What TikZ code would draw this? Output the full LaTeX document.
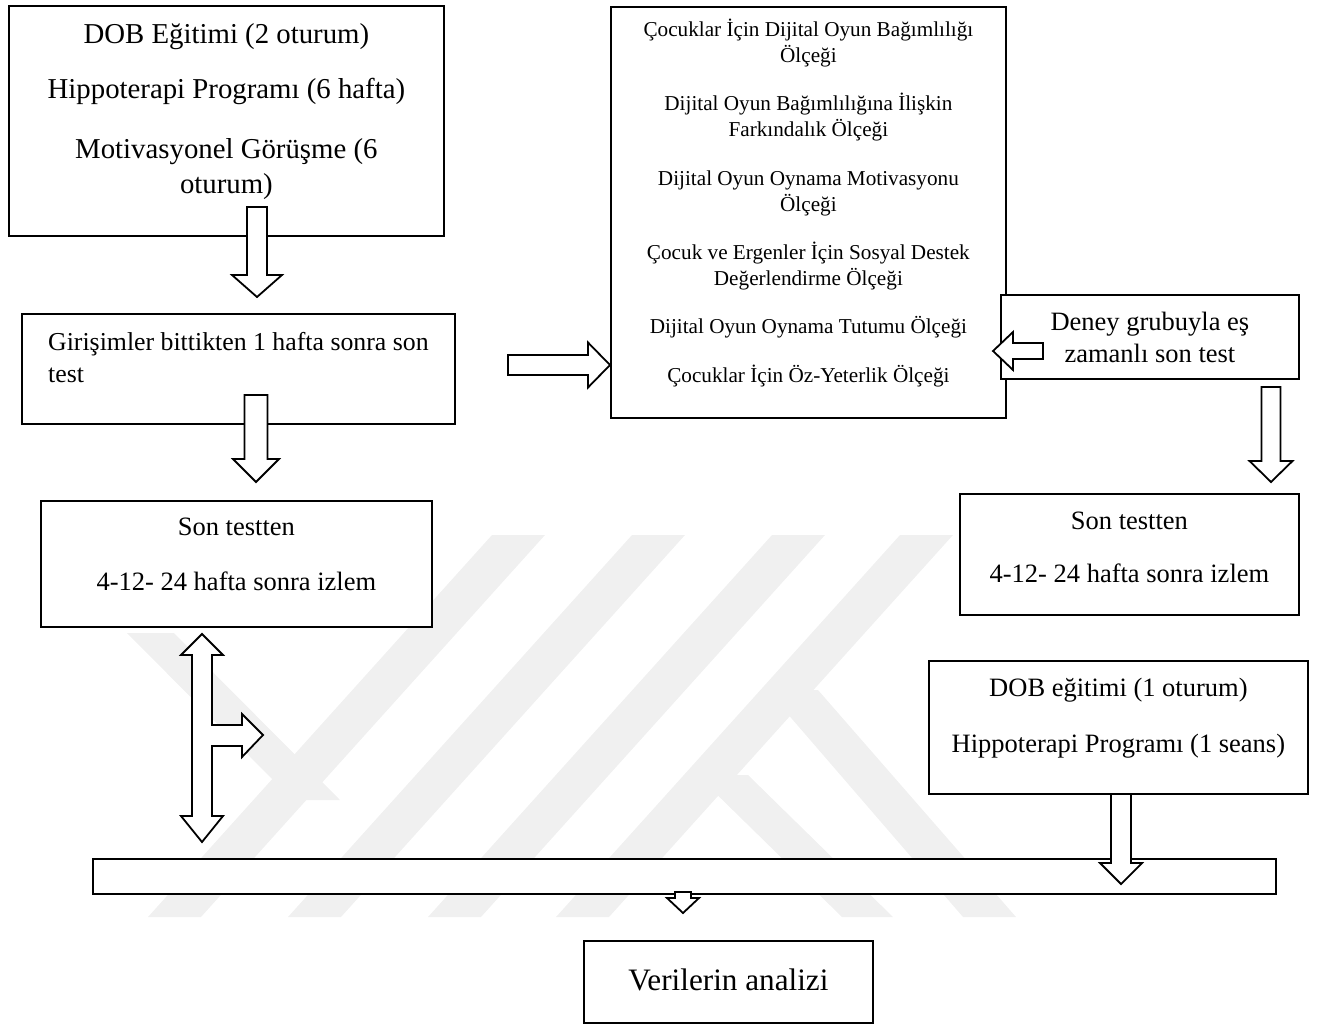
\documentclass[tikz,border=0pt]{standalone}
\usepackage{fontspec}
\setmainfont{Liberation Serif}

\tikzset{
  box/.style={draw, line width=1.8pt, fill=white, inner sep=0pt, align=center, anchor=north west},
  hollow/.style={draw, fill=white, line width=1.8pt, line join=miter},
  wmark/.style={fill=black!6}
}

\begin{document}
\begin{tikzpicture}[x=1pt, y=-1pt]
  \useasboundingbox (0,0) rectangle (1321,1028);
  % faint watermark behind
  \fill[wmark] (492,535) -- (545,535) -- (201,917) -- (148,917) -- cycle;
  \fill[wmark] (632,535) -- (685,535) -- (341,917) -- (288,917) -- cycle;
  \fill[wmark] (772,535) -- (825,535) -- (481,917) -- (428,917) -- cycle;
  \fill[wmark] (900,535) -- (953,535) -- (609,917) -- (556,917) -- cycle;
  \fill[wmark] (127,633) -- (174,633) -- (340,800) -- (293,800) -- cycle;
  \fill[wmark] (767,690) -- (818,690) -- (1016,917) -- (963,917) -- cycle;
  \fill[wmark] (697,775) -- (748,775) -- (893,917) -- (842,917) -- cycle;

  % boxes
  \node[box, minimum width=435, minimum height=230, font=\fontsize{28.8}{35}\selectfont] (dob) at (8,5)
    {\rule{0pt}{21pt}DOB Eğitimi (2 oturum)\\[20pt] Hippoterapi Programı (6 hafta)\\[25pt] Motivasyonel Görüşme (6\\ oturum)\rule[-25pt]{0pt}{0pt}};
  \node[box, align=left, minimum width=433, minimum height=110, font=\fontsize{25.8}{32}\selectfont] (sontest) at (21,313)
    {\rule{0pt}{18pt}Girişimler bittikten 1 hafta sonra son\\ test\rule[-22pt]{0pt}{0pt}};
  \node[box, minimum width=391, minimum height=126, font=\fontsize{26.5}{32}\selectfont] (izlem) at (40,500)
    {\rule{0pt}{19pt}Son testten\\[23pt] 4-12- 24 hafta sonra izlem\rule[-20pt]{0pt}{0pt}};
  \node[box, minimum width=395, minimum height=411, font=\fontsize{21.2}{26}\selectfont] (olcek) at (610,6)
    {\rule{0pt}{19pt}Çocuklar İçin Dijital Oyun Bağımlılığı\\ Ölçeği\\[22.3pt]
     Dijital Oyun Bağımlılığına İlişkin\\ Farkındalık Ölçeği\\[22.3pt]
     Dijital Oyun Oynama Motivasyonu\\ Ölçeği\\[22.3pt]
     Çocuk ve Ergenler İçin Sosyal Destek\\ Değerlendirme Ölçeği\\[22.3pt]
     Dijital Oyun Oynama Tutumu Ölçeği\\[22.3pt]
     Çocuklar İçin Öz-Yeterlik Ölçeği\rule[-25pt]{0pt}{0pt}};
  \node[box, minimum width=298, minimum height=84, font=\fontsize{26.5}{32}\selectfont] (kontrol) at (1000,294)
    {\rule{0pt}{25pt}Deney grubuyla eş\\ zamanlı son test\rule[-5pt]{0pt}{0pt}};
  \node[box, minimum width=339, minimum height=121, font=\fontsize{26.5}{32}\selectfont] (kizlem) at (959,493)
    {\rule{0pt}{22pt}Son testten\\[21pt] 4-12- 24 hafta sonra izlem\rule[-18pt]{0pt}{0pt}};
  \node[box, minimum width=379, minimum height=133, font=\fontsize{26.5}{32}\selectfont] (kdob) at (928,660)
    {\rule{0pt}{19pt}DOB eğitimi (1 oturum)\\[24pt] Hippoterapi Programı (1 seans)\rule[-24pt]{0pt}{0pt}};
  \node[box, minimum width=1183, minimum height=35] (bar) at (92,858) {};
  \node[box, minimum width=289, minimum height=82, font=\fontsize{31.2}{36}\selectfont] (analiz) at (583,940)
    {\rule{0pt}{22pt}Verilerin analizi\rule[-4pt]{0pt}{0pt}};

  % hollow block arrows
  \coordinate (p1) at (257,207);
  \coordinate (p2) at (256,395);
  \coordinate (p3) at (508,365);
  \coordinate (p4) at (1043,351);
  \coordinate (p5) at (1271,387);
  \coordinate (p6) at (1121,794);
  \coordinate (p7) at (683,892);
  \coordinate (p8) at (202,634);
  \draw[hollow, shift={(p1)}] (-10,0) -- (-10,68) -- (-25,68) -- (0,90) -- (25,68) -- (10,68) -- (10,0) -- cycle;
  \draw[hollow, shift={(p2)}] (-11.5,0) -- (-11.5,64) -- (-23,64) -- (0,87) -- (23,64) -- (11.5,64) -- (11.5,0) -- cycle;
  \draw[hollow, shift={(p3)}] (0,-10) -- (80,-10) -- (80,-22.5) -- (102,0) -- (80,22.5) -- (80,10) -- (0,10) -- cycle;
  \draw[hollow, shift={(p4)}] (0,-8) -- (-30,-8) -- (-30,-19) -- (-50,0) -- (-30,19) -- (-30,8) -- (0,8) -- cycle;
  \draw[hollow, shift={(p5)}] (-9.5,0) -- (-9.5,74) -- (-21.5,74) -- (0,95) -- (21.5,74) -- (9.5,74) -- (9.5,0) -- cycle;
  \draw[hollow, shift={(p6)}] (-10,0) -- (-10,69) -- (-21,69) -- (0,90) -- (21,69) -- (10,69) -- (10,0) -- cycle;
  \draw[hollow, shift={(p7)}] (-8,0) -- (-8,6) -- (-16,6) -- (0,21) -- (16,6) -- (8,6) -- (8,0) -- cycle;
  % two-way arrow with side branch
  \draw[hollow, shift={(p8)}] (0,0) -- (21,21) -- (10,21) -- (10,91) -- (40,91) -- (40,80) -- (61,101)
    -- (40,123) -- (40,112) -- (10,112) -- (10,182) -- (21,182) -- (0,208) -- (-21,182) -- (-10,182)
    -- (-10,21) -- (-21,21) -- cycle;
\end{tikzpicture}
\end{document}
